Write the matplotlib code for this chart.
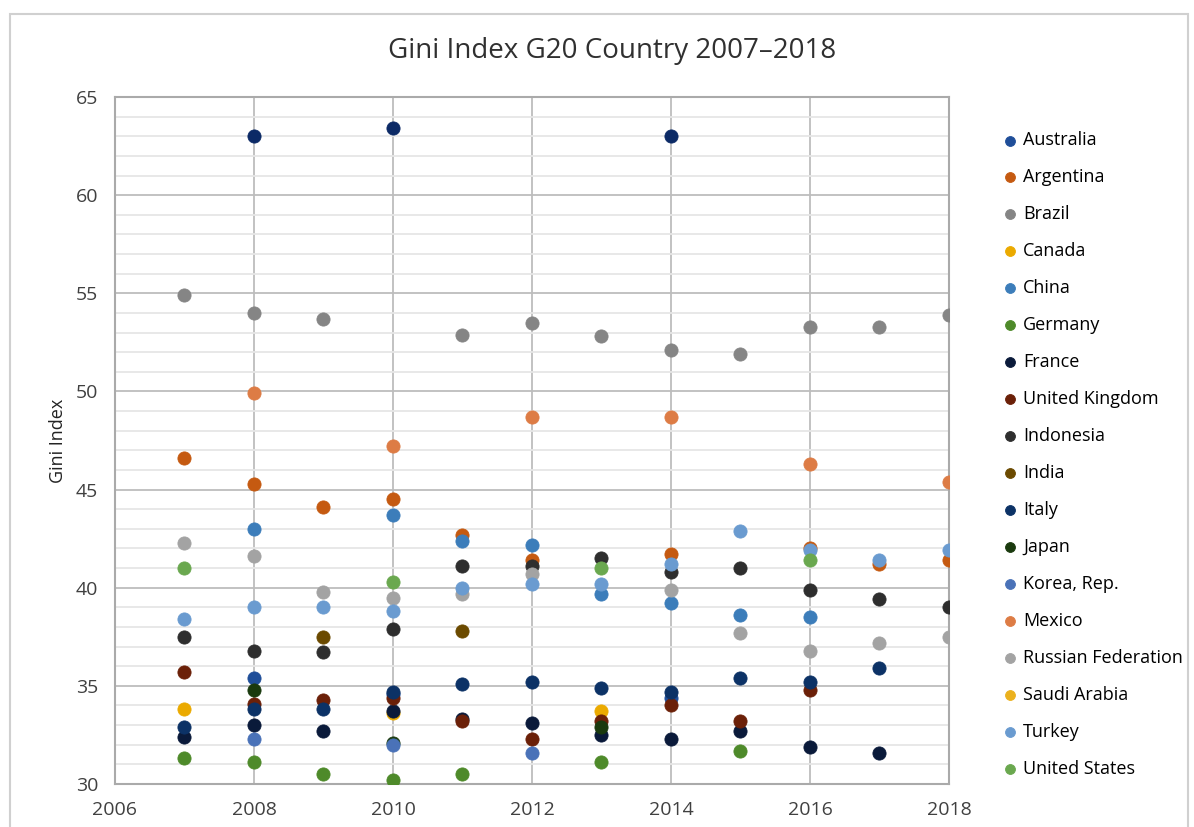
import matplotlib.pyplot as plt
from matplotlib.patches import Rectangle

## Data
countries = ['Australia', 'Argentina', 'Brazil', 'Canada', 'China', 'Germany',
             'France', 'United Kingdom', 'Indonesia', 'India', 'Italy', 'Japan',
             'Korea, Rep.', 'Mexico', 'Russian Federation', 'Saudi Arabia',
             'Turkey', 'United States']

australia_yr = [2008, 2010, 2014]
australia = [35.4, 34.6, 34.4]
argentina_yr = [2007, 2008, 2009, 2010, 2011, 2012, 2014, 2016, 2017, 2018]
argentina = [46.6, 45.3, 44.1, 44.5, 42.7, 41.4, 41.7, 42.0, 41.2, 41.4]
brazil_yr = [2007, 2008, 2009, 2011, 2012, 2013, 2014, 2015, 2016, 2017, 2018]
brazil = [54.9, 54.0, 53.7, 52.9, 53.5, 52.8, 52.1, 51.9, 53.3, 53.3, 53.9]
canada_yr = [2007, 2010, 2013]
canada = [33.8, 33.6, 33.7]
china_yr = [2008, 2010, 2011, 2012, 2013, 2014, 2015, 2016]
china = [43.0, 43.7, 42.4, 42.2, 39.7, 39.2, 38.6, 38.5]
germany_yr = [2007, 2008, 2009, 2010, 2011, 2013, 2015]
germany = [31.3, 31.1, 30.5, 30.2, 30.5, 31.1, 31.7]
france_yr = [2007, 2008, 2009, 2010, 2011, 2012, 2013, 2014, 2015, 2016, 2017]
france = [32.4, 33.0, 32.7, 33.7, 33.3, 33.1, 32.5, 32.3, 32.7, 31.9, 31.6]
uk_yr = [2007, 2008, 2009, 2010, 2011, 2012, 2013, 2014, 2015, 2016]
uk = [35.7, 34.1, 34.3, 34.4, 33.2, 32.3, 33.2, 34.0, 33.2, 34.8]
indonesia_yr = [2007, 2008, 2009, 2010, 2011, 2012, 2013, 2014, 2015, 2016, 2017, 2018]
indonesia = [37.5, 36.8, 36.7, 37.9, 41.1, 41.1, 41.5, 40.8, 41.0, 39.9, 39.4, 39.0]
india_yr = [2009, 2011]
india = [37.5, 37.8]
italy_yr = [2007, 2008, 2009, 2010, 2011, 2012, 2013, 2014, 2015, 2016, 2017]
italy = [32.9, 33.8, 33.8, 34.7, 35.1, 35.2, 34.9, 34.7, 35.4, 35.2, 35.9]
japan_yr = [2008, 2010, 2013]
japan = [34.8, 32.1, 32.9]
korea_yr = [2008, 2010, 2012]
korea = [32.3, 32.0, 31.6]
mexico_yr = [2008, 2010, 2012, 2014, 2016, 2018]
mexico = [49.9, 47.2, 48.7, 48.7, 46.3, 45.4]
russia_yr = [2007, 2008, 2009, 2010, 2011, 2012, 2014, 2015, 2016, 2017, 2018]
russia = [42.3, 41.6, 39.8, 39.5, 39.7, 40.7, 39.9, 37.7, 36.8, 37.2, 37.5]
saudi_yr = []
saudi = []
turkey_yr = [2007, 2008, 2009, 2010, 2011, 2012, 2013, 2014, 2015, 2016, 2017, 2018]
turkey = [38.4, 39.0, 39.0, 38.8, 40.0, 40.2, 40.2, 41.2, 42.9, 41.9, 41.4, 41.9]
us_yr = [2007, 2010, 2013, 2016]
us = [41.0, 40.3, 41.0, 41.4]
# unlabeled series at the top of the chart (not in the legend)
extra_yr = [2008, 2010, 2014]
extra = [63.0, 63.4, 63.0]

series = [(australia_yr, australia), (argentina_yr, argentina), (brazil_yr, brazil),
          (canada_yr, canada), (china_yr, china), (germany_yr, germany),
          (france_yr, france), (uk_yr, uk), (indonesia_yr, indonesia),
          (india_yr, india), (italy_yr, italy), (japan_yr, japan),
          (korea_yr, korea), (mexico_yr, mexico), (russia_yr, russia),
          (saudi_yr, saudi), (turkey_yr, turkey), (us_yr, us)]

colors = ['#1F4E99', '#C55A11', '#858585', '#EBAA00', '#3C7DBA', '#4E8A2A',
          '#0A1A3A', '#6B2008', '#2E2E2E', '#6B4A00', '#0C3266', '#1A3A0E',
          '#4A72B8', '#DD7C45', '#A3A3A3', '#EBB11E', '#6A9BD0', '#6AA84F']

plt.rcParams['font.family'] = ['Open Sans', 'DejaVu Sans']

fig = plt.figure(figsize=(11.94, 8.27), dpi=100)
ax = fig.add_axes([0.0963, 0.052, 0.6985, 0.8307])

for (yrs, vals), name, c in zip(series, countries, colors):
    ax.scatter(yrs, vals, s=90, color=c, edgecolors=c, linewidths=0.6,
               label=name, zorder=3)
ax.scatter(extra_yr, extra, s=90, color='#0C2A66', edgecolors='#0C2A66',
           linewidths=0.6, label='_nolegend_', zorder=3)

ax.set_xlim(2006, 2018)
ax.set_ylim(30, 65)
ax.set_xticks(range(2006, 2019, 2))
ax.set_yticks(range(30, 66, 5))
ax.set_yticks(range(30, 66, 1), minor=True)
ax.grid(True, which='major', axis='both', color='#BDBDBD', linewidth=1.3, zorder=0)
ax.grid(True, which='minor', axis='y', color='#E6E6E6', linewidth=1.3, zorder=0)
ax.set_axisbelow(True)
ax.tick_params(which='both', length=0, labelsize=14, colors='#404040', pad=12)
for sp in ax.spines.values():
    sp.set_color('#AAAAAA')
    sp.set_linewidth(1.5)

ax.set_ylabel('Gini Index', fontsize=13, color='#222222', labelpad=6)
fig.text(0.5126, 0.938, 'Gini Index G20 Country 2007\u20132018', ha='center',
         va='center', fontsize=20, color='#303030')

leg = ax.legend(loc='upper left', bbox_to_anchor=(0.8325, 0.850),
                bbox_transform=fig.transFigure, frameon=False,
                fontsize=13, labelspacing=1.05, handlelength=1.0,
                handletextpad=0.2, markerscale=0.75, borderaxespad=0.0)

fig.patches.append(Rectangle((10 / 1194, -0.05), 1178 / 1194, 1.05 - 14 / 827,
                             transform=fig.transFigure, fill=False,
                             edgecolor='#D0D0D0', linewidth=1.5))

fig.savefig('out.png', dpi=100)
